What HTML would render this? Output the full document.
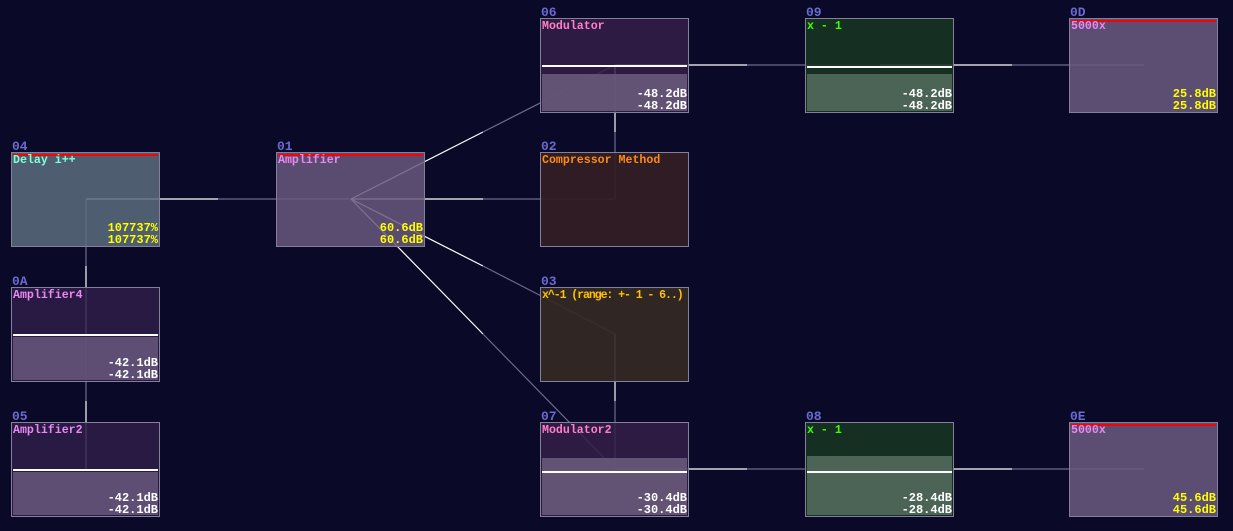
<!DOCTYPE html>
<html><head><meta charset="utf-8"><style>
html,body{margin:0;padding:0;background:#0a0928;width:1233px;height:531px;overflow:hidden;font-family:"Liberation Mono","DejaVu Sans Mono",monospace;}
svg{position:absolute;left:0;top:0}
.id{position:absolute;color:#6a6ad0;font-size:13px;line-height:12px;font-weight:bold}
.b{position:absolute;width:147px;height:93px;border:1px solid #85809a;overflow:hidden}
.t{position:absolute;left:1px;top:1px;font-size:11.6px;line-height:13px;font-weight:bold;white-space:nowrap}
.v{position:absolute;right:1px;bottom:0px;font-size:12px;line-height:12px;text-align:right;font-weight:bold}
.r{position:absolute;left:1px;right:1px;top:1px;height:2px;background:#f00}
.f{position:absolute;left:1px;right:1px;bottom:1px}
.w{position:absolute;left:1px;right:1px;height:2px;background:#fff}
</style></head><body>
<svg width="1233" height="531">
<g stroke-width="1.2" fill="none">
<g stroke="#ffffff">
<line x1="86" y1="199" x2="218" y2="199"/>
<line x1="86" y1="334" x2="86" y2="266"/>
<line x1="86" y1="469" x2="86" y2="401"/>
<line x1="351" y1="199" x2="483" y2="199"/>
<line x1="351" y1="199" x2="483" y2="132"/>
<line x1="351" y1="199" x2="483" y2="266"/>
<line x1="351" y1="199" x2="483" y2="334"/>
<line x1="615" y1="65" x2="615" y2="132"/>
<line x1="615" y1="334" x2="615" y2="401"/>
<line x1="615" y1="65" x2="747" y2="65"/>
<line x1="880" y1="65" x2="1012" y2="65"/>
<line x1="615" y1="469" x2="747" y2="469"/>
<line x1="880" y1="469" x2="1012" y2="469"/>
</g>
<g stroke="#6c6c8c">
<line x1="218" y1="199" x2="351" y2="199"/>
<line x1="86" y1="266" x2="86" y2="199"/>
<line x1="86" y1="401" x2="86" y2="334"/>
<line x1="483" y1="199" x2="615" y2="199"/>
<line x1="483" y1="132" x2="615" y2="65"/>
<line x1="483" y1="266" x2="615" y2="334"/>
<line x1="483" y1="334" x2="615" y2="469"/>
<line x1="615" y1="132" x2="615" y2="199"/>
<line x1="615" y1="401" x2="615" y2="469"/>
<line x1="747" y1="65" x2="880" y2="65"/>
<line x1="1012" y1="65" x2="1144" y2="65"/>
<line x1="747" y1="469" x2="880" y2="469"/>
<line x1="1012" y1="469" x2="1144" y2="469"/>
</g>
</g>
</svg>

<div class="id" style="left:541px;top:7px">06</div>
<div class="b" style="left:540px;top:18px;background:rgba(52,30,72,.85)">
<div class="w" style="top:46px"></div>
<div class="f" style="top:55px;background:rgba(108,92,125,.85)"></div>
<div class="t" style="color:#ff80c8">Modulator</div>
<div class="v" style="color:#fff">-48.2dB<br>-48.2dB</div></div>

<div class="id" style="left:806px;top:7px">09</div>
<div class="b" style="left:805px;top:18px;background:rgba(22,52,34,.9)">
<div class="w" style="top:47px"></div>
<div class="f" style="top:55px;background:rgba(82,106,92,.9)"></div>
<div class="t" style="color:#40ff00">x - 1</div>
<div class="v" style="color:#fff">-48.2dB<br>-48.2dB</div></div>

<div class="id" style="left:1070px;top:7px">0D</div>
<div class="b" style="left:1069px;top:18px;background:rgba(104,88,124,.88)">
<div class="r"></div>
<div class="t" style="color:#e888f0">5000x</div>
<div class="v" style="color:#ffff00">25.8dB<br>25.8dB</div></div>

<div class="id" style="left:12px;top:141px">04</div>
<div class="b" style="left:11px;top:152px;background:rgba(90,108,124,.85)">
<div class="r"></div>
<div class="t" style="color:#80ffd8">Delay i++</div>
<div class="v" style="color:#ffff00">107737%<br>107737%</div></div>

<div class="id" style="left:277px;top:141px">01</div>
<div class="b" style="left:276px;top:152px;background:rgba(104,88,124,.85)">
<div class="r"></div>
<div class="t" style="color:#e888f0">Amplifier</div>
<div class="v" style="color:#ffff00">60.6dB<br>60.6dB</div></div>

<div class="id" style="left:541px;top:141px">02</div>
<div class="b" style="left:540px;top:152px;background:rgba(52,30,36,.92)">
<div class="t" style="color:#ff8c10">Compressor Method</div></div>

<div class="id" style="left:12px;top:276px">0A</div>
<div class="b" style="left:11px;top:287px;background:rgba(46,28,72,.88)">
<div class="w" style="top:46px"></div>
<div class="f" style="top:49px;background:rgba(104,88,124,.85)"></div>
<div class="t" style="color:#e888f0">Amplifier4</div>
<div class="v" style="color:#fff">-42.1dB<br>-42.1dB</div></div>

<div class="id" style="left:541px;top:276px">03</div>
<div class="b" style="left:540px;top:287px;background:rgba(52,42,36,.92)">
<div class="t" style="color:#ffc000;letter-spacing:-1.1px">x^-1 (range: +- 1 - 6..)</div></div>

<div class="id" style="left:12px;top:411px">05</div>
<div class="b" style="left:11px;top:422px;background:rgba(46,28,72,.88)">
<div class="w" style="top:46px"></div>
<div class="f" style="top:49px;background:rgba(104,88,124,.85)"></div>
<div class="t" style="color:#e888f0">Amplifier2</div>
<div class="v" style="color:#fff">-42.1dB<br>-42.1dB</div></div>

<div class="id" style="left:541px;top:411px">07</div>
<div class="b" style="left:540px;top:422px;background:rgba(52,30,72,.85)">
<div class="f" style="top:35px;background:rgba(108,92,125,.85)"></div>
<div class="w" style="top:48px"></div>
<div class="t" style="color:#ff80c8">Modulator2</div>
<div class="v" style="color:#fff">-30.4dB<br>-30.4dB</div></div>

<div class="id" style="left:806px;top:411px">08</div>
<div class="b" style="left:805px;top:422px;background:rgba(22,52,34,.9)">
<div class="f" style="top:33px;background:rgba(82,106,92,.9)"></div>
<div class="w" style="top:48px"></div>
<div class="t" style="color:#40ff00">x - 1</div>
<div class="v" style="color:#fff">-28.4dB<br>-28.4dB</div></div>

<div class="id" style="left:1070px;top:411px">0E</div>
<div class="b" style="left:1069px;top:422px;background:rgba(104,88,124,.88)">
<div class="r"></div>
<div class="t" style="color:#e888f0">5000x</div>
<div class="v" style="color:#ffff00">45.6dB<br>45.6dB</div></div>
</body></html>
